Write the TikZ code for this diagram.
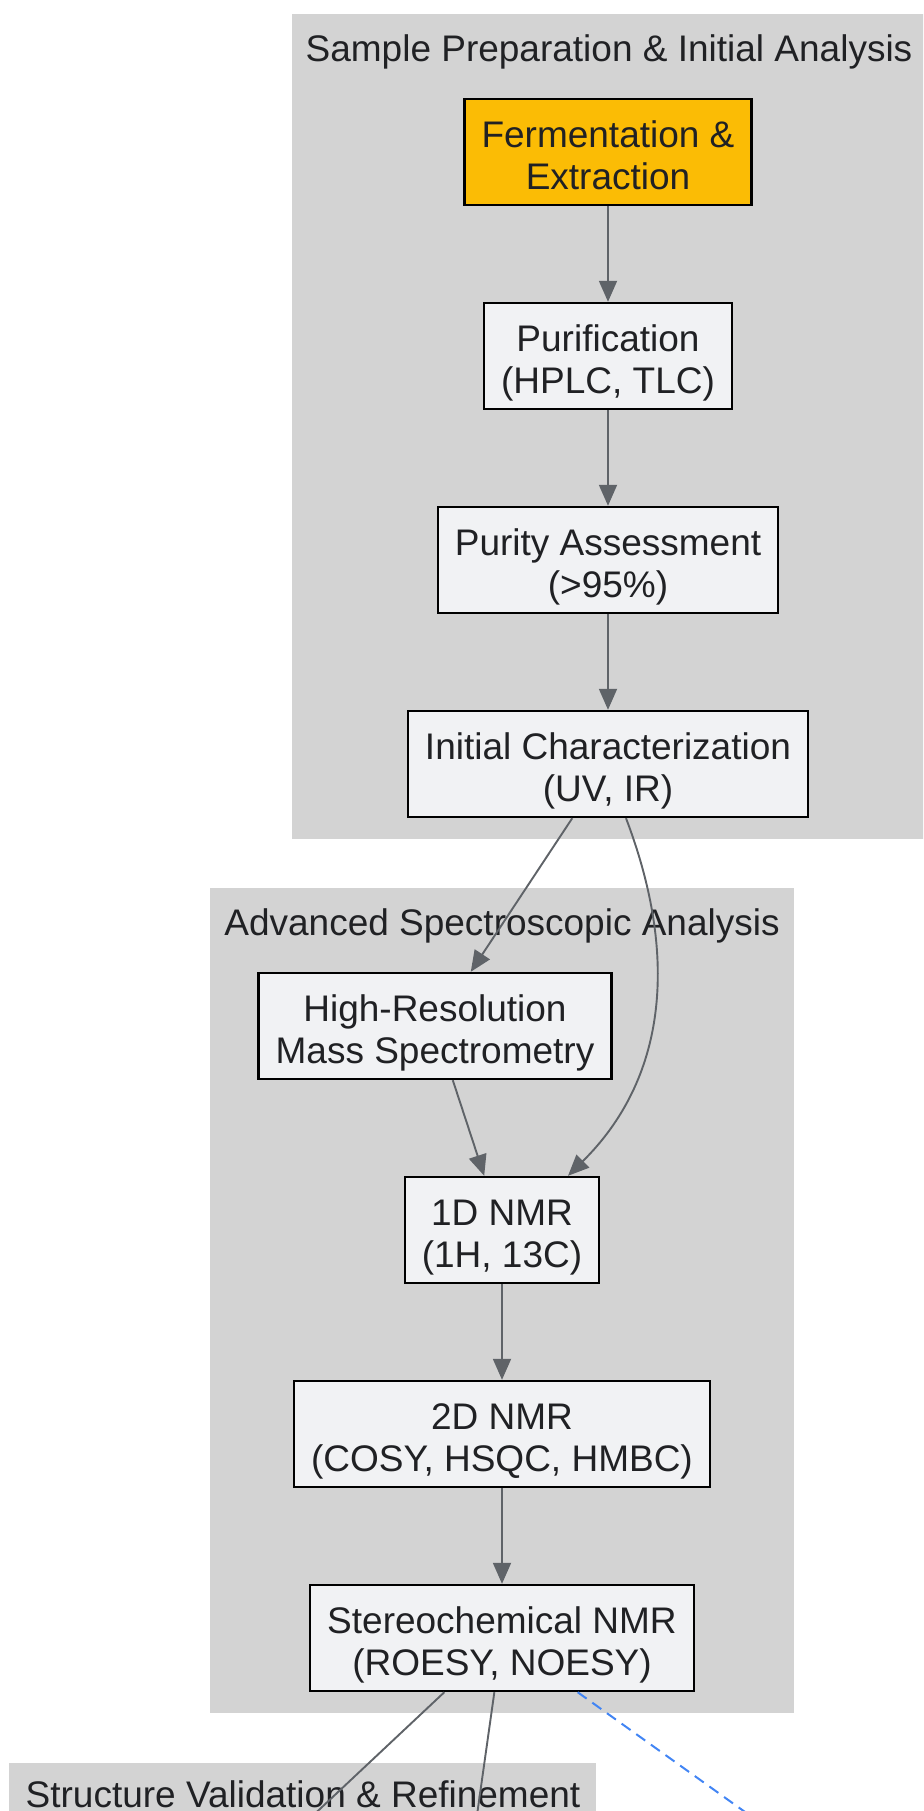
\documentclass[tikz,border=0pt]{standalone}
\usepackage{fontspec}
\setmainfont{Liberation Sans}
\usepackage{xcolor}
\usetikzlibrary{arrows.meta}

\definecolor{clusterbg}{HTML}{D3D3D3}
\definecolor{boxbg}{HTML}{F1F2F4}
\definecolor{startbg}{HTML}{FBBC05}
\definecolor{flowgray}{HTML}{5F6368}
\definecolor{linkblue}{HTML}{4285F4}
\definecolor{inkgray}{HTML}{202124}

% two lines of a box, with fixed line room above and below
\newcommand{\twolines}[2]{\rule{0pt}{41pt}#1\\#2\rule[-8pt]{0pt}{8pt}}

\begin{document}
\begin{tikzpicture}[x=1pt,y=-1pt,
    font=\fontsize{37}{41.6}\selectfont,
    stage/.style={draw=black,line width=2.4pt,fill=boxbg,text=inkgray,align=center,
      minimum height=106pt,inner xsep=17pt,inner ysep=0pt},
    title/.style={text=inkgray,inner sep=0pt},
    flow/.style={draw=flowgray,line width=1.9pt,-{Triangle[length=21pt,width=18pt]}},
    link/.style={draw=linkblue,line width=2pt,dash pattern=on 11pt off 7pt,-{Triangle[length=21pt,width=18pt]}}
  ]
        \clip (0,0) rectangle (923,1811);

        % Clusters
        \fill[clusterbg] (292,14) rectangle (930,839);
        \fill[clusterbg] (210,888) rectangle (794,1713);
        \fill[clusterbg] (9,1763) rectangle (596,1900);

        \node[title] (titleprep) at (609,52) {Sample Preparation \& Initial Analysis};
        \node[title] (titlespec) at (502,926) {Advanced Spectroscopic Analysis};
        \node[title] (titlevalid) at (303,1794) {Structure Validation \& Refinement};

        % Sample preparation
        \node[stage,fill=startbg] (ferm) at (608,152) {\twolines{Fermentation \&}{Extraction}};
        \node[stage] (purif) at (608,356) {\twolines{Purification}{(HPLC, TLC)}};
        \node[stage] (purity) at (608,560) {\twolines{Purity Assessment}{(>95\%)}};
        \node[stage] (initchar) at (608,764) {\twolines{Initial Characterization}{(UV, IR)}};

        % Spectroscopy
        \node[stage] (hrms) at (435,1026) {\twolines{High-Resolution}{Mass Spectrometry}};
        \node[stage] (nmr1d) at (502,1230) {\twolines{1D NMR}{(1H, 13C)}};
        \node[stage] (nmr2d) at (502,1434) {\twolines{2D NMR}{(COSY, HSQC, HMBC)}};
        \node[stage] (stereo) at (502,1638) {\twolines{Stereochemical NMR}{(ROESY, NOESY)}};

        % Targets below the page
        \coordinate (validA) at (223,1900);
        \coordinate (validB) at (465,1900);
        \coordinate (validC) at (868,1900);

        % Edges
        \draw[flow] (ferm) -- (purif);
        \draw[flow] (purif) -- (purity);
        \draw[flow] (purity) -- (initchar);
        \draw[flow] (initchar) -- (hrms);
        \draw[flow] ([xshift=18pt]initchar.south) .. controls (680,960) and (665,1080) .. ([xshift=66pt]nmr1d.north);
        \draw[flow] (hrms) -- (nmr1d);
        \draw[flow] (nmr1d) -- (nmr2d);
        \draw[flow] (nmr2d) -- (stereo);
        \draw[flow] (stereo) -- (validA);
        \draw[flow] (stereo) -- (validB);
        \draw[link] (stereo) -- (validC);
    \end{tikzpicture}
\end{document}
